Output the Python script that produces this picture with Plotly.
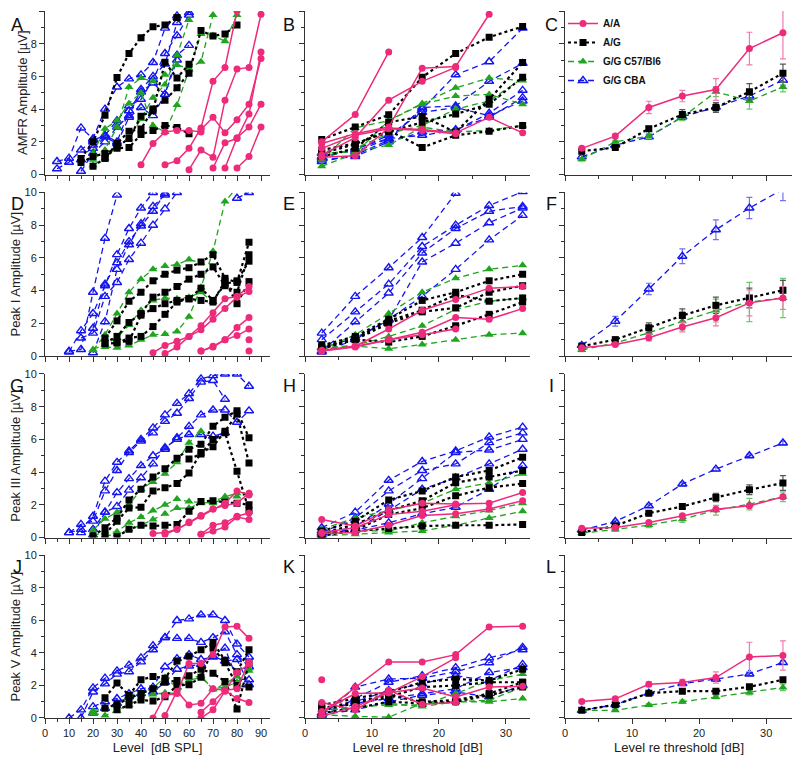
"""Individual and mean ABR/AMFR amplitude growth for four genotype groups."""

import plotly.graph_objects as go
from plotly.subplots import make_subplots

GROUPS = ["A/A", "A/G", "G/G C57/Bl6", "G/G CBA"]
RE_THRESHOLD = [2.5, 7.5, 12.5, 17.5, 22.5, 27.5, 32.5]
LEVEL_STEP = 5  # dB between presentation levels

# ---- individual animals vs level: (first level in dB SPL, amplitudes in uV) ----
AMFR_LEVEL = {
    "G/G CBA": [
        (5, [0.8, 1.0, 2.85, 2.2, 4.0, 5.35, 5.85, 6.1, 6.85, 8.95, 9.7]),
        (5, [0.35, 0.75, 1.5, 2.1, 2.4, 3.3, 4.2, 4.6, 5.8, 7.4, 8.5, 9.75]),
        (15, [0.2, 1.3, 2.0, 2.9, 3.6, 5.2, 6.0, 6.75, 9.3, 9.9]),
        (15, [0.9, 1.8, 2.4, 2.0, 3.9, 5.05, 5.6, 4.9, 7.3, 7.9]),
        (20, [1.6, 2.3, 1.9, 3.5, 4.1, 3.6, 4.9, 7.0]),
    ],
    "G/G C57/Bl6": [
        (20, [0.57, 1.0, 1.7, 2.2, 3.4, 4.7, 5.5, 7.3, 9.45]),
        (20, [0.9, 1.5, 2.9, 5.35, 5.9, 5.7, 6.1, 6.7, 6.5, 6.9, 9.75]),
        (20, [1.3, 2.8, 3.3, 4.35, 5.0, 3.0, 2.6, 4.25, 6.4, 8.6, 8.5, 8.15, 9.75]),
    ],
    "A/G": [
        (15, [0.98, 2.0, 3.63, 5.94, 7.4, 8.37, 9.04, 9.14, 9.6]),
        (15, [0.73, 1.1, 1.29, 1.6, 1.65, 2.45, 2.7, 3.0, 2.88, 2.5]),
        (20, [0.5, 1.0, 1.9, 2.65, 2.78, 4.0, 4.55, 5.3, 6.2, 8.8, 8.47, 8.6, 9.14]),
        (25, [1.0, 1.7, 2.2, 3.57, 3.9, 6.86, 5.9, 6.75]),
    ],
    "A/A": [
        (40, [0.6, 1.9, 2.6, 2.7, 2.7, 2.6]),
        (50, [0.6, 0.85, 1.6, 2.85, 5.7, 6.55, 10.0]),
        (60, [0.3, 1.5, 1.05, 4.55, 6.45, 6.55, 9.8]),
        (65, [2.75, 3.5, 2.55, 3.35, 4.3, 7.1]),
        (70, [0.4, 1.95, 2.2, 3.7, 7.5]),
        (75, [0.4, 2.25, 2.9, 4.3]),
        (80, [0.4, 1.1, 2.9]),
    ],
}
PEAK1_LEVEL = {
    "G/G CBA": [
        (10, [0.3, 0.4, 3.9, 7.2, 9.85]),
        (10, [0.25, 1.55, 2.6, 4.3, 6.2, 7.8, 9.05, 10.0]),
        (15, [1.1, 1.4, 3.65, 4.5, 5.9, 6.9, 8.0, 9.0, 10.0]),
        (20, [0.2, 2.1, 5.3, 6.8, 8.1, 9.15, 9.85]),
        (20, [1.7, 4.4, 5.7, 7.0, 7.95, 8.85, 9.95]),
        (80, [9.65, 10.0]),
    ],
    "G/G C57/Bl6": [
        (20, [0.35, 1.3, 2.6, 3.9, 4.7, 5.3, 5.5, 5.6, 5.9, 5.7]),
        (25, [0.55, 0.5, 0.65, 1.0, 1.3, 1.35, 1.5, 2.4, 4.2, 6.4, 9.45, 10.3]),
        (20, [0.4, 0.7, 1.1, 1.9, 2.8, 3.4, 3.55, 3.5, 3.6, 3.9, 3.3]),
    ],
    "A/G": [
        (25, [1.1, 2.15, 3.35, 3.9, 4.6, 5.0, 5.25, 5.4, 5.75, 6.2, 4.75, 4.5, 6.95]),
        (25, [0.8, 1.2, 2.05, 2.6, 3.6, 3.9, 4.25, 4.7, 5.0, 5.45, 4.3, 3.9, 6.2]),
        (25, [0.75, 0.8, 1.1, 1.2, 1.8, 2.55, 3.3, 3.5, 4.15, 3.4, 4.4, 4.6, 5.8]),
        (30, [0.85, 0.9, 2.5, 2.9, 3.2, 3.4, 3.5, 3.4, 3.3, 4.6, 3.2, 4.55]),
    ],
    "A/A": [
        (45, [0.2, 0.65, 0.9, 1.2, 1.85, 2.65, 3.5, 3.65, 4.25]),
        (50, [0.15, 0.55, 1.2, 1.6, 2.25, 2.9, 3.6, 3.95]),
        (65, [0.3, 0.55, 1.0, 1.75, 2.35]),
        (65, [0.3, 0.6, 1.0, 1.25, 1.65]),
        (85, [1.0]),
        (85, [0.3]),
    ],
}
PEAK3_LEVEL = {
    "G/G CBA": [
        (10, [0.3, 0.5, 1.3, 3.45, 4.6, 5.3, 6.0, 6.7, 7.5, 8.2, 8.8, 9.7, 9.9, 10.0, 10.0, 9.25]),
        (10, [0.3, 0.8, 1.0, 2.85, 4.1, 5.2, 5.9, 6.4, 7.1, 7.6, 8.5, 9.5, 9.6, 8.45]),
        (15, [0.3, 0.5, 1.55, 2.75, 3.6, 4.4, 5.0, 5.4, 6.1, 6.8, 7.5, 7.8, 7.8, 7.05, 7.75]),
        (20, [0.15, 1.55, 1.9, 2.9, 3.65, 4.5, 5.5, 6.0, 6.3, 6.3, 6.2, 6.4]),
    ],
    "G/G C57/Bl6": [
        (20, [0.45, 1.15, 1.55, 2.0, 2.95, 3.4, 3.9, 4.6, 5.8, 6.5]),
        (20, [0.15, 0.3, 0.35, 0.9, 1.25, 1.65, 2.0, 2.35, 2.2, 2.15, 2.1, 2.4, 2.5, 2.7]),
        (25, [0.1, 0.2, 0.5, 0.75, 1.1, 1.45, 1.8, 1.8, 2.1, 2.2, 2.5, 2.7]),
    ],
    "A/G": [
        (20, [0.1, 0.6, 1.2, 2.3, 2.95, 3.7, 4.2, 4.85, 5.4, 5.7, 6.8, 7.35, 7.75, 6.1]),
        (25, [0.2, 1.0, 1.8, 1.85, 2.85, 3.05, 3.3, 3.95, 5.2, 5.55, 6.5, 7.55, 4.55]),
        (30, [0.05, 0.5, 0.75, 0.7, 0.75, 0.8, 1.6, 2.2, 2.25, 2.15, 2.1, 2.0]),
        (60, [4.8, 5.1, 6.0, 6.4, 4.05, 1.65]),
    ],
    "A/A": [
        (45, [0.25, 0.3, 0.5, 0.95, 1.35, 1.75, 1.95, 2.1, 2.7]),
        (50, [0.2, 0.5, 0.9, 1.3, 1.75, 2.1, 2.85, 2.6]),
        (65, [0.2, 0.75, 0.9, 1.3, 1.5]),
        (65, [0.2, 0.4, 0.65, 1.25, 1.1]),
    ],
}
PEAK5_LEVEL = {
    "G/G CBA": [
        (10, [0.0, 0.5, 1.85, 2.45, 2.9, 3.25, 3.7, 4.45, 4.95, 6.0, 6.1, 6.35, 6.35, 6.0, 4.55, 3.75]),
        (15, [0.0, 1.6, 2.1, 2.7, 2.85, 3.45, 4.2, 4.95, 4.9, 4.9, 4.65, 4.95, 5.3, 3.9, 3.15]),
        (20, [0.7, 1.0, 1.2, 1.5, 1.8, 1.9, 3.15, 3.65, 3.9, 3.6, 3.75, 4.3, 2.4, 2.35]),
        (20, [0.3, 0.6, 0.9, 1.3, 1.5, 1.6, 2.2, 3.0, 3.2, 3.3, 3.8, 3.5, 3.6, 2.05]),
    ],
    "G/G C57/Bl6": [
        (20, [0.45, 0.6, 0.75, 1.4, 1.55, 1.85, 2.5, 1.85, 2.45, 2.6, 1.75, 2.1, 2.55, 3.05]),
        (20, [0.3, 0.15, 0.45, 0.8, 1.2, 1.45, 1.55, 1.5, 2.3, 2.5, 1.8, 1.9, 2.2, 2.9]),
    ],
    "A/G": [
        (25, [1.25, 2.15, 1.4, 2.35, 2.55, 2.45, 3.5, 3.8, 4.2, 4.65, 3.55, 2.85, 4.2]),
        (25, [0.6, 0.85, 1.2, 1.5, 1.8, 2.2, 2.3, 2.6, 3.0, 2.75, 2.25, 0.55, 3.4]),
        (30, [0.5, 0.8, 1.1, 1.05, 1.3, 2.0, 2.05, 2.5, 4.3, 3.4, 2.0, 1.9]),
    ],
    "A/A": [
        (45, [0.0, 1.4, 1.5, 3.35, 3.35, 3.9, 5.6, 5.65, 4.9]),
        (50, [0.15, 1.65, 0.8, 0.9, 1.8, 1.7, 1.2, 0.95]),
        (65, [0.35, 1.0, 1.7, 1.8, 3.45]),
        (65, [0.0, 0.5, 1.65, 2.8, 3.3]),
    ],
}

# ---- individual animals vs level re threshold (values at RE_THRESHOLD) ----
AMFR_RE = {
    "G/G CBA": [
        [1.0, 1.6, 2.2, 4.0, 6.1, 6.9, 8.95],
        [0.8, 1.2, 2.1, 4.1, 4.2, 5.7, 6.8],
        [1.3, 1.4, 2.2, 2.4, 2.7, 3.75, 5.15],
        [0.9, 1.1, 2.0, 2.6, 2.75, 3.5, 4.7],
        [1.1, 1.5, 2.4, 3.8, 4.1, 3.6, 4.5],
    ],
    "G/G C57/Bl6": [
        [0.5, 1.3, 3.3, 4.35, 5.3, 5.9, 5.75],
        [0.9, 2.85, 3.3, 4.3, 4.8, 4.9, 4.3],
        [1.3, 1.4, 1.8, 2.9, 2.6, 2.7, 3.0],
        [1.0, 1.6, 2.5, 3.0, 4.0, 4.5, 5.9],
    ],
    "A/G": [
        [2.15, 2.9, 3.65, 5.95, 7.4, 8.4, 9.05],
        [1.3, 1.85, 2.7, 1.65, 2.4, 2.65, 3.0],
        [1.1, 1.6, 3.2, 3.55, 2.6, 4.6, 6.85],
        [1.5, 1.9, 2.6, 3.2, 3.7, 4.3, 5.95],
    ],
    "A/A": [
        [2.0, 3.67, 7.5],
        [1.9, 2.5, 2.9, 6.5, 6.6, 9.8],
        [1.2, 2.25, 4.55, 5.7, 6.55],
        [1.05, 1.15, 2.85, 2.75, 2.55, 3.5, 2.55],
        [1.6, 2.4, 2.8, 2.7, 2.5],
    ],
}
PEAK1_RE = {
    "G/G CBA": [
        [1.4, 3.65, 5.4, 7.25, 9.95],
        [1.0, 2.7, 4.4, 6.7, 8.0, 9.2, 10.05],
        [0.3, 2.1, 3.85, 6.3, 7.8, 8.85, 9.15],
        [0.5, 1.1, 2.2, 5.75, 6.9, 8.15, 9.05],
        [0.25, 1.0, 2.25, 3.65, 5.3, 7.1, 8.6],
    ],
    "G/G C57/Bl6": [
        [0.4, 1.3, 2.6, 3.9, 4.75, 5.3, 5.55],
        [0.5, 0.65, 1.2, 1.85, 2.85, 3.35, 3.55],
        [0.45, 0.6, 0.45, 0.7, 1.0, 1.3, 1.4],
    ],
    "A/G": [
        [0.65, 1.2, 2.25, 3.4, 3.9, 4.6, 5.0],
        [0.5, 1.0, 2.0, 2.7, 2.95, 3.9, 4.3],
        [0.45, 1.0, 0.85, 1.2, 1.85, 2.55, 3.3],
        [0.55, 1.05, 2.15, 2.8, 3.75, 3.35, 3.55],
    ],
    "A/A": [
        [0.3, 0.6, 1.65, 2.8, 3.45, 4.15, 4.25],
        [0.35, 0.6, 1.0, 1.45, 2.35, 2.25, 2.9],
        [0.3, 0.55, 1.0, 1.3, 1.65],
    ],
}
PEAK3_RE = {
    "G/G CBA": [
        [0.6, 1.55, 3.5, 4.65, 5.3, 6.15, 6.75],
        [0.3, 1.2, 2.85, 4.1, 4.5, 5.8, 6.4],
        [0.2, 0.65, 2.05, 3.6, 5.2, 5.35, 6.0],
        [0.1, 0.5, 1.65, 2.95, 3.65, 4.5, 5.4],
        [0.4, 0.45, 0.9, 1.45, 1.85, 2.95, 4.4],
    ],
    "G/G C57/Bl6": [
        [0.5, 1.2, 1.65, 2.1, 2.95, 3.35, 3.9],
        [0.25, 0.4, 0.4, 0.9, 1.3, 1.65, 2.1],
        [0.1, 0.2, 0.3, 0.4, 0.75, 1.2, 1.6],
    ],
    "A/G": [
        [0.4, 1.0, 2.3, 2.85, 3.7, 4.1, 4.9],
        [0.25, 0.8, 1.65, 2.25, 3.35, 3.7, 4.1],
        [0.1, 0.45, 1.4, 1.8, 2.55, 3.05, 3.3],
        [0.2, 0.4, 0.55, 0.7, 0.75, 0.75, 0.8],
    ],
    "A/A": [
        [1.1, 0.7, 1.7, 2.1, 2.05, 2.1, 2.75],
        [0.25, 0.3, 0.75, 1.35, 1.45, 1.75, 2.25],
        [0.3, 0.6, 1.4, 1.6, 2.0],
    ],
}
PEAK5_RE = {
    "G/G CBA": [
        [0.1, 1.9, 2.4, 2.45, 2.85, 3.4, 4.35],
        [0.05, 1.2, 2.2, 2.6, 3.1, 3.7, 4.2],
        [0.3, 1.0, 1.7, 2.1, 2.6, 2.3, 3.3],
        [0.0, 0.9, 1.2, 1.5, 1.8, 2.8, 3.1],
        [0.2, 0.5, 1.0, 1.4, 1.6, 1.3, 2.0],
    ],
    "G/G C57/Bl6": [
        [0.4, 0.7, 0.8, 0.8, 1.5, 2.3, 2.7],
        [0.2, 0.1, 0.05, 0.9, 1.0, 1.1, 1.9],
        [0.5, 0.6, 0.9, 0.7, 1.0, 1.0, 1.2],
    ],
    "A/G": [
        [0.8, 1.2, 1.6, 2.2, 2.4, 2.3, 3.0],
        [0.5, 0.9, 1.3, 1.9, 2.0, 2.2, 2.2],
        [0.3, 0.6, 1.0, 0.9, 1.0, 1.4, 1.9],
        [0.6, 1.0, 1.4, 1.0, 1.1, 1.5, 2.2],
    ],
    "A/A": [
        [0.3, 1.9, 3.45, 3.45, 3.9, 5.6, 5.65],
        [0.1, 0.7, 1.55, 2.55, 3.7],
        [0.4, 1.5, 1.55, 1.85, 1.3, 1.9, 1.95],
        [0.95, 0.5, 1.7, 0.85, 0.95],
        [2.35],
    ],
}

# ---- group means and SEM vs level re threshold ----
AMFR_MEAN = {
    "A/A": [1.6, 2.35, 4.1, 4.8, 5.2, 7.7, 8.67],
    "A/G": [1.43, 1.65, 2.8, 3.67, 4.1, 5.06, 6.2],
    "G/G C57/Bl6": [0.94, 2.0, 2.35, 3.5, 5.06, 4.5, 5.35],
    "G/G CBA": [1.08, 1.8, 2.3, 3.53, 4.12, 4.8, 5.77],
}
AMFR_SEM = {
    "A/A": [0.1, 0.12, 0.38, 0.35, 0.67, 1.0, 1.6],
    "A/G": [0.1, 0.1, 0.15, 0.3, 0.3, 0.5, 0.55],
    "G/G C57/Bl6": [0.1, 0.1, 0.15, 0.2, 0.3, 0.5, 0.3],
    "G/G CBA": [0.1, 0.1, 0.15, 0.2, 0.25, 0.3, 0.3],
}
PEAK1_MEAN = {
    "A/A": [0.5, 0.71, 1.12, 1.77, 2.34, 3.25, 3.55],
    "A/G": [0.6, 1.0, 1.73, 2.48, 3.1, 3.55, 4.02],
    "G/G C57/Bl6": [0.37, 0.8, 1.42, 2.13, 2.78, 3.3, 3.55],
    "G/G CBA": [0.65, 2.13, 4.1, 6.1, 7.72, 9.05, 10.2],
}
PEAK1_SEM = {
    "A/A": [0.05, 0.1, 0.2, 0.3, 0.5, 0.8, 0.7],
    "A/G": [0.1, 0.15, 0.3, 0.4, 0.5, 0.6, 0.6],
    "G/G C57/Bl6": [0.1, 0.15, 0.3, 0.6, 0.7, 1.2, 1.2],
    "G/G CBA": [0.15, 0.3, 0.35, 0.45, 0.6, 0.65, 0.7],
}
PEAK3_MEAN = {
    "A/A": [0.57, 0.61, 0.92, 1.33, 1.73, 1.94, 2.49],
    "A/G": [0.3, 0.71, 1.49, 1.9, 2.45, 2.92, 3.33],
    "G/G C57/Bl6": [0.27, 0.49, 0.76, 1.12, 1.67, 2.04, 2.49],
    "G/G CBA": [0.45, 0.98, 1.94, 3.27, 4.18, 5.0, 5.78],
}
PEAK3_SEM = {
    "A/A": [0.05, 0.08, 0.1, 0.1, 0.12, 0.12, 0.15],
    "A/G": [0.05, 0.1, 0.15, 0.15, 0.25, 0.3, 0.45],
    "G/G C57/Bl6": [0.05, 0.1, 0.15, 0.2, 0.3, 0.35, 0.3],
    "G/G CBA": [0.05, 0.08, 0.1, 0.1, 0.1, 0.1, 0.1],
}
PEAK5_MEAN = {
    "A/A": [1.02, 1.18, 2.08, 2.18, 2.49, 3.76, 3.84],
    "A/G": [0.47, 0.82, 1.53, 1.65, 1.65, 1.92, 2.35],
    "G/G C57/Bl6": [0.47, 0.47, 0.8, 1.0, 1.29, 1.57, 1.88],
    "G/G CBA": [0.47, 0.82, 1.53, 2.12, 2.39, 2.71, 3.41],
}
PEAK5_SEM = {
    "A/A": [0.1, 0.1, 0.15, 0.2, 0.35, 0.9, 0.9],
    "A/G": [0.05, 0.08, 0.1, 0.1, 0.1, 0.1, 0.12],
    "G/G C57/Bl6": [0.05, 0.05, 0.08, 0.1, 0.1, 0.15, 0.2],
    "G/G CBA": [0.05, 0.08, 0.1, 0.1, 0.1, 0.1, 0.12],
}

Y_TITLES = [
    "AMFR Amplitude [µV]",
    "Peak I Amplitude [µV]",
    "Peak III Amplitude [µV]",
    "Peak V Amplitude [µV]",
]
LETTERS = ["A", "B", "C", "D", "E", "F", "G", "H", "I", "J", "K", "L"]

STYLE = {
    "A/A": dict(color="#EE2A7B", dash="solid", symbol="circle", size=7, width=1.5, err="#F27AAD"),
    "A/G": dict(color="#000000", dash="dot", symbol="square", size=7, width=2.2, err="#555555"),
    "G/G C57/Bl6": dict(color="#1FA51F", dash="6px,4px", symbol="triangle-up", size=8, width=1.3, err="#6BC96B"),
    "G/G CBA": dict(color="#1515F2", dash="6px,4px", symbol="triangle-up-open", size=8, width=1.3, err="#7272F6"),
}
DRAW_ORDER = ["G/G CBA", "G/G C57/Bl6", "A/G", "A/A"]
FONT = "Arial, Liberation Sans, sans-serif"

# layout in page pixels; the html body adds an 8px offset to the figure
PAGE_OFFSET = 8
W, H = 800 - PAGE_OFFSET, 762 - PAGE_OFFSET
PLOT_LEFT, PLOT_RIGHT, PLOT_TOP, PLOT_BOTTOM = 45, 793, 9, 718
ML = PLOT_LEFT - PAGE_OFFSET
MT = PLOT_TOP - PAGE_OFFSET
MR = W - (PLOT_RIGHT - PAGE_OFFSET)
MB = H - (PLOT_BOTTOM - PAGE_OFFSET)
PW, PH = PLOT_RIGHT - PLOT_LEFT, PLOT_BOTTOM - PLOT_TOP
COL_PX = [(45, 270), (305, 530), (565, 793)]
ROW_PX = [(9, 173), (191, 355), (373, 537), (555, 718)]
X_RANGES = [[0, 93.75], [0, 33.6], [0, 34.0]]


def px_x(x):
    return (x - PLOT_LEFT) / PW


def px_y(y):
    return (PLOT_BOTTOM - y) / PH


def line_trace(x, y, group, showlegend=False, sem=None):
    s = STYLE[group]
    open_marker = s["symbol"].endswith("open")
    return go.Scatter(
        x=x,
        y=y,
        mode="lines+markers",
        name=group,
        legendgroup=group,
        legendrank=GROUPS.index(group) + 1,
        showlegend=showlegend,
        line=dict(color=s["color"], width=s["width"], dash=s["dash"]),
        marker=dict(
            symbol=s["symbol"],
            size=s["size"],
            color=s["color"],
            line=dict(color=s["color"], width=1.4 if open_marker else 0),
        ),
        error_y=None if sem is None else dict(
            type="data", array=sem, color=s["err"], thickness=1.2, width=3
        ),
        hoverinfo="skip",
    )


panels = [
    (AMFR_LEVEL, AMFR_RE, AMFR_MEAN, AMFR_SEM),
    (PEAK1_LEVEL, PEAK1_RE, PEAK1_MEAN, PEAK1_SEM),
    (PEAK3_LEVEL, PEAK3_RE, PEAK3_MEAN, PEAK3_SEM),
    (PEAK5_LEVEL, PEAK5_RE, PEAK5_MEAN, PEAK5_SEM),
]

fig = make_subplots(rows=4, cols=3)

for r, (by_level, by_re, means, sems) in enumerate(panels, start=1):
    for group in DRAW_ORDER:
        for start, amps in by_level[group]:
            levels = [start + LEVEL_STEP * i for i in range(len(amps))]
            fig.add_trace(line_trace(levels, amps, group), row=r, col=1)
        for amps in by_re[group]:
            fig.add_trace(line_trace(RE_THRESHOLD[: len(amps)], amps, group), row=r, col=2)
        fig.add_trace(
            line_trace(RE_THRESHOLD, means[group], group, showlegend=(r == 1), sem=sems[group]),
            row=r,
            col=3,
        )

axis_common = dict(
    automargin=False,
    showline=True,
    linecolor="#333333",
    linewidth=1,
    ticks="outside",
    ticklen=5,
    tickcolor="#333333",
    showgrid=False,
    zeroline=False,
    tickfont=dict(family=FONT, size=11, color="#222222"),
)

for r in range(1, 5):
    top, bottom = ROW_PX[r - 1]
    for c in range(1, 4):
        left, right = COL_PX[c - 1]
        fig.update_xaxes(
            domain=[px_x(left), px_x(right)],
            range=X_RANGES[c - 1],
            dtick=10,
            tick0=0,
            minor=dict(dtick=5, ticklen=3, ticks="outside", tickcolor="#333333", showgrid=False),
            showticklabels=(r == 4),
            row=r,
            col=c,
            **axis_common,
        )
        fig.update_yaxes(
            domain=[px_y(bottom), px_y(top)],
            range=[0, 10],
            dtick=2,
            tick0=0,
            minor=dict(dtick=1, ticklen=3, ticks="outside", tickcolor="#333333", showgrid=False),
            showticklabels=(c == 1),
            row=r,
            col=c,
            **axis_common,
        )
    fig.update_yaxes(
        title=dict(text=Y_TITLES[r - 1], font=dict(family=FONT, size=13, color="#222222"), standoff=0),
        row=r,
        col=1,
    )

fig.update_xaxes(title=dict(text="Level  [dB SPL]", font=dict(family=FONT, size=13, color="#222222"), standoff=4), row=4, col=1)
for c in (2, 3):
    fig.update_xaxes(
        title=dict(text="Level re threshold [dB]", font=dict(family=FONT, size=13, color="#222222"), standoff=4),
        row=4,
        col=c,
    )

# panel letters (page pixel centres)
letter_x = [17, 289, 551]
letter_y = [23, 203, 385, 567]
for i, letter in enumerate(LETTERS):
    r, c = divmod(i, 3)
    fig.add_annotation(
        text=letter,
        x=px_x(letter_x[c]),
        y=px_y(letter_y[r]),
        xref="paper",
        yref="paper",
        showarrow=False,
        xanchor="center",
        yanchor="middle",
        font=dict(family=FONT, size=18, color="#111111"),
    )

fig.update_layout(
    width=W,
    height=H,
    margin=dict(l=ML, r=MR, t=MT, b=MB),
    paper_bgcolor="white",
    plot_bgcolor="white",
    font=dict(family=FONT, color="#222222"),
    showlegend=True,
    legend=dict(
        x=px_x(563),
        y=px_y(7),
        xanchor="left",
        yanchor="top",
        bgcolor="rgba(0,0,0,0)",
        itemwidth=30,
        tracegroupgap=0,
        font=dict(family=FONT, size=10, color="#111111", weight="bold"),
    ),
)

fig.write_html("out.html")
